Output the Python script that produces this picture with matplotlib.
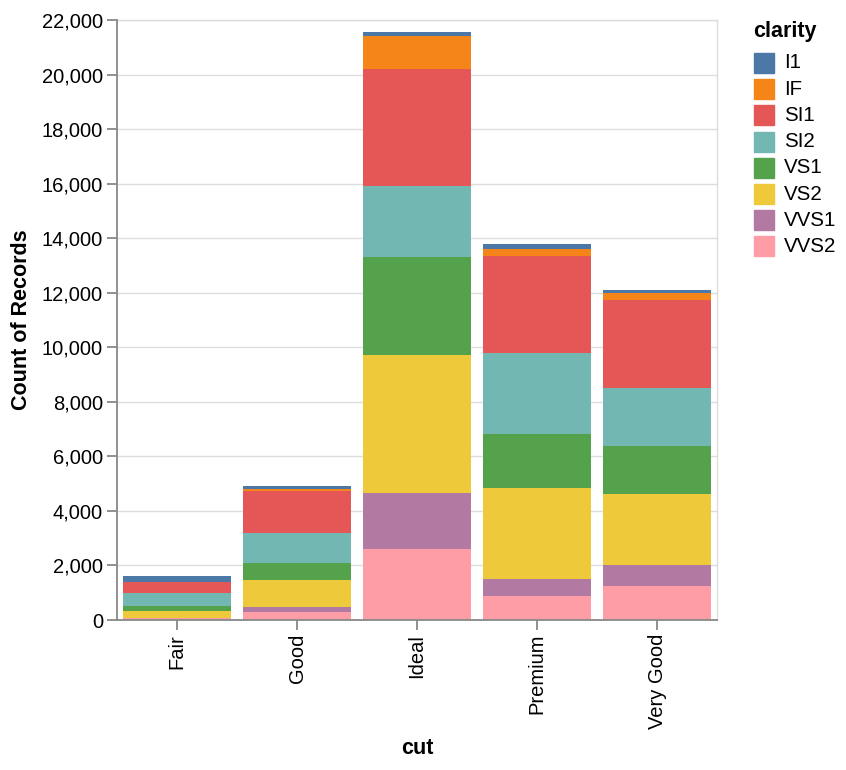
import matplotlib
matplotlib.use('Agg')
import matplotlib.pyplot as plt
from matplotlib.patches import Rectangle
import matplotlib.ticker as ticker
import numpy as np

plt.rcParams['font.family'] = ['Liberation Sans', 'DejaVu Sans']

# diamonds: count of records by cut and clarity
cuts = ['Fair', 'Good', 'Ideal', 'Premium', 'Very Good']
clarities = ['I1', 'IF', 'SI1', 'SI2', 'VS1', 'VS2', 'VVS1', 'VVS2']
counts = {
    'I1':   [210, 96, 146, 205, 84],
    'IF':   [9, 71, 1212, 230, 268],
    'SI1':  [408, 1560, 4282, 3575, 3240],
    'SI2':  [466, 1081, 2598, 2949, 2100],
    'VS1':  [170, 648, 3589, 1989, 1775],
    'VS2':  [261, 978, 5071, 3357, 2591],
    'VVS1': [17, 186, 2047, 616, 789],
    'VVS2': [69, 286, 2606, 870, 1235],
}
colors = ['#4c78a8', '#f58518', '#e45756', '#72b7b2',
          '#54a24b', '#eeca3b', '#b279a2', '#ff9da6']

W, H = 846, 770
fig = plt.figure(figsize=(W / 100, H / 100), dpi=100)
ax = fig.add_axes([117 / W, (H - 620) / H, 600 / W, 600 / H])

x = np.arange(len(cuts))
bottom = np.zeros(len(cuts))
# stack from the last clarity upwards so I1 ends on top
for name, col in reversed(list(zip(clarities, colors))):
    vals = np.array(counts[name], dtype=float)
    ax.bar(x, vals, width=0.9, bottom=bottom, color=col, linewidth=0, zorder=3)
    bottom += vals

ax.set_xlim(-0.5, len(cuts) - 0.5)
ax.set_ylim(0, 22000)
ax.set_yticks(np.arange(0, 22001, 2000))
ax.yaxis.set_major_formatter(ticker.StrMethodFormatter('{x:,.0f}'))
ax.set_xticks(x)
ax.set_xticklabels(cuts, rotation=90, ha='center', va='top')
ax.grid(axis='y', color='#dddddd', linewidth=1, zorder=0)

for side in ['top', 'right']:
    ax.spines[side].set_color('#dddddd')
    ax.spines[side].set_linewidth(1)
for side in ['left', 'bottom']:
    ax.spines[side].set_color('#888888')
    ax.spines[side].set_linewidth(1.3)
    ax.spines[side].set_zorder(4)
ax.tick_params(axis='both', colors='#888888', length=7, width=1.3,
               labelcolor='black', labelsize=14.5, pad=3)

ax.set_xlabel('cut', fontsize=15.5, fontweight='bold')
ax.set_ylabel('Count of Records', fontsize=15.5, fontweight='bold')
ax.xaxis.set_label_coords(0.5, (620 - 748) / 600)
ax.xaxis.label.set_va('center')
ax.yaxis.set_label_coords((22 - 117) / 600, 0.5)
ax.yaxis.label.set_va('center')

# legend
fig.text(753 / W, 1 - 31 / H, 'clarity', fontsize=15.5, fontweight='bold',
         ha='left', va='center')
for i, (name, col) in enumerate(zip(clarities, colors)):
    yc = 63 + i * 26.2
    fig.patches.append(Rectangle((754 / W, 1 - (yc + 10) / H), 20 / W, 20 / H,
                                 transform=fig.transFigure, color=col))
    fig.text(784 / W, 1 - yc / H, name, fontsize=14.8, ha='left', va='center')

fig.savefig('out.png', dpi=100)
